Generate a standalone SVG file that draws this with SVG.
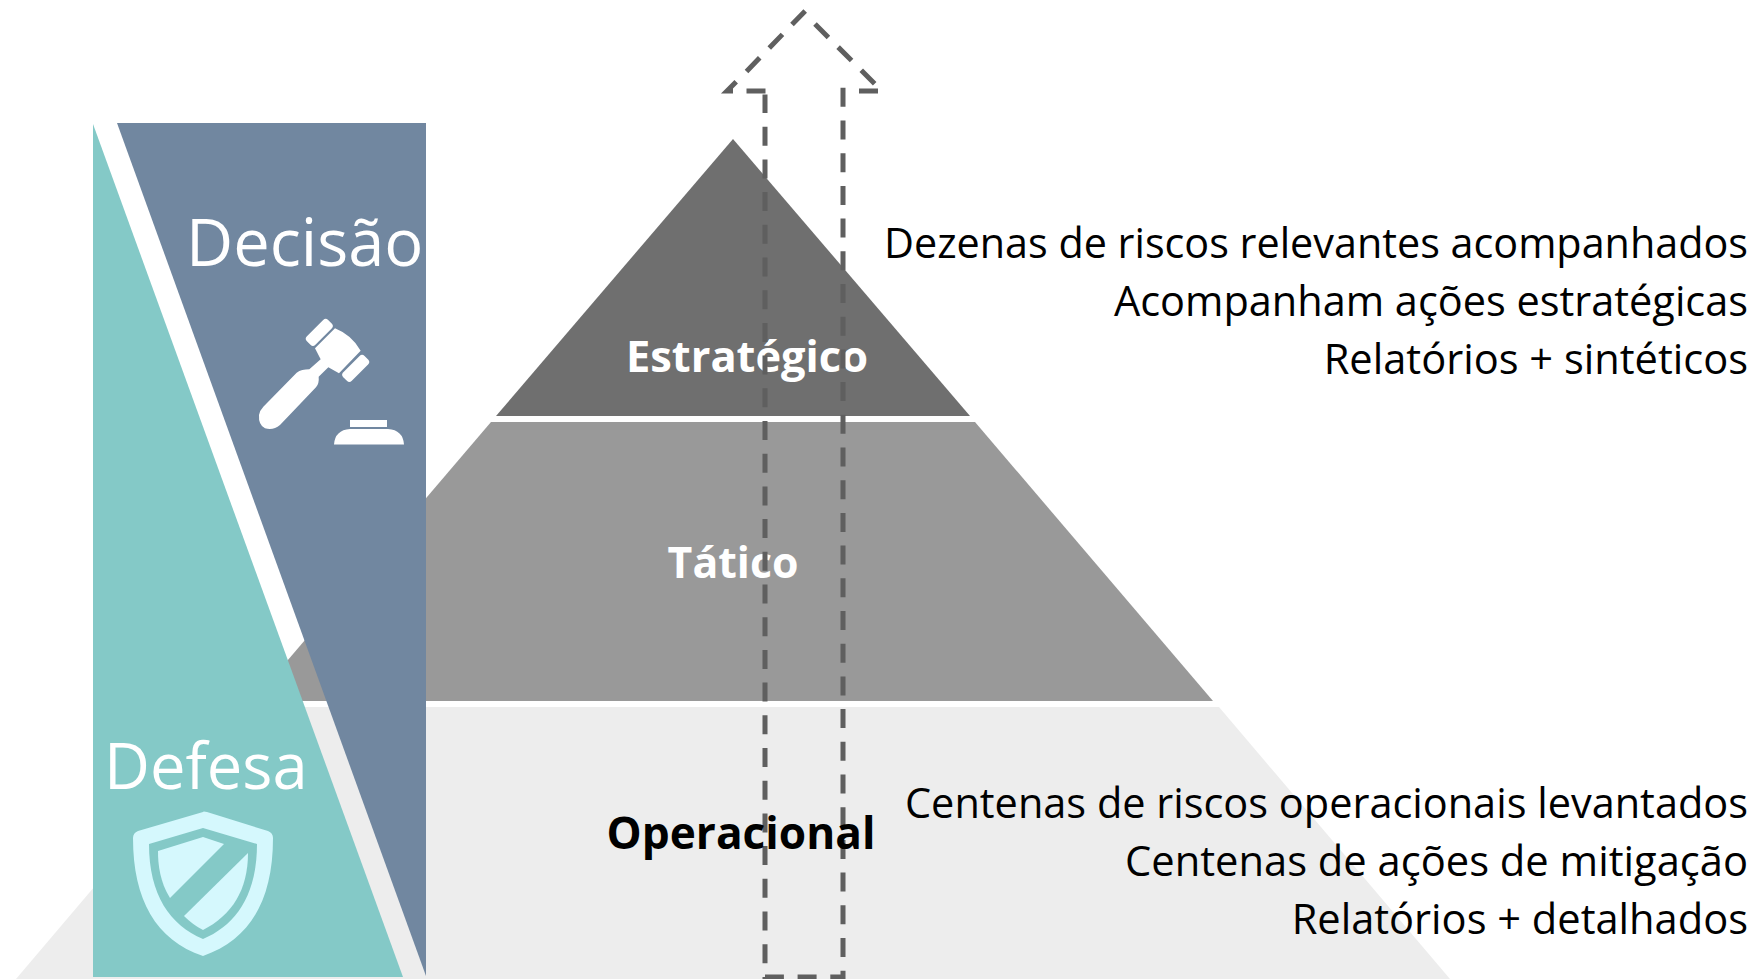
<svg xmlns="http://www.w3.org/2000/svg" width="1762" height="979" viewBox="0 0 1762 979">
<style>
text{font-family:"Open Sans","Noto Sans","Liberation Sans",sans-serif}
.r{font-size:41.6px;fill:#000;text-anchor:end}
.b{font-weight:700;text-anchor:middle}
.h{fill:#fff}
</style>
<rect width="1762" height="979" fill="#fff"/>
<g id="piramide-operacional"><polygon points="247,707 1219,707 1450,979 16,979" fill="#ededed"/></g>
<g id="piramide-tatico"><polygon points="491,422 975,422 1213,701 253,701" fill="#999"/></g>
<g id="piramide-estrategico"><polygon points="733,139 970,416 496,416" fill="#6f6f6f"/></g>
<g id="rotulo-estrategico"><text class="b" font-size="43.4" x="747" y="372" fill="#fff">Estratégico</text></g>
<g id="rotulo-tatico"><text class="b" font-size="42.8" x="733" y="578" fill="#fff">Tático</text></g>
<g id="conectores"><path d="M733,91 H727 L739,79 M746.5,71.5 L805.2,10.9 M815,24 L875,84 M878,91 H859 M843,87.8 V977 H765 V94.5 M765.5,91 H746.5" fill="none" stroke="#5f5f5f" stroke-width="5" stroke-dasharray="19 13.7"/></g>
<g id="rotulo-operacional"><text class="b" font-size="44.2" x="741" y="849" fill="#000">Operacional</text></g>
<g id="decisao">
<polygon points="117,123 426,123 426,976" fill="#7187a0"/>
<text class="h" font-size="65" x="186" y="266">Decisão</text>
<g fill="#fff">
<path transform="translate(80,100) scale(.33333)" d="M705,745 L765,685 Q815,705 842,752 L777,820 L745,802 L716,830 Q718,850 708,862 L600,975 Q580,992 555,985 Q535,975 537,945 Q540,930 550,920 L650,818 Q665,808 688,808 L722,778 Z"/>
<rect x="-15" y="-6" width="30" height="12" rx="3.5" transform="translate(319.3,332.3) rotate(-45)"/>
<rect x="-15" y="-6" width="30" height="12" rx="3.5" transform="translate(355.7,368.3) rotate(-45)"/>
<path d="M350,420 H387 V427 H350 Z M334,444.5 Q335,430 350,429 H388 Q403,430 404,444.5 Z"/>
</g>
</g>
<g id="defesa">
<polygon points="93,124 403,977 93,977" fill="#84c9c7"/>
<text class="h" font-size="63.3" x="104" y="789">Defesa</text>
<g fill="#d5f8fd">
<path fill-rule="evenodd" d="M203,812 Q203,811 207,812 L268,831 Q273,833 273,838 C273,900 250,940 203,956 C156,940 133,900 133,838 Q133,833 138,831 Z M203,828 L149,844 C149,895 170,925 203,939 C236,925 257,895 257,844 Z"/>
<path d="M203,837 L224,844 L170,898 C160,882 158,865 158,851 Z"/>
<path d="M248,853 C248,890 232,915 203,930 Q193,925 184,916 Z"/>
</g>
</g>
<g id="textos-estrategico">
<text class="r" x="1748" y="258" textLength="864" lengthAdjust="spacingAndGlyphs">Dezenas de riscos relevantes acompanhados</text>
<text class="r" x="1748" y="316" textLength="634" lengthAdjust="spacingAndGlyphs">Acompanham ações estratégicas</text>
<text class="r" x="1748" y="374">Relatórios + sintéticos</text>
</g>
<g id="textos-operacional">
<text class="r" x="1748" y="818" textLength="843" lengthAdjust="spacingAndGlyphs">Centenas de riscos operacionais levantados</text>
<text class="r" x="1748" y="876" textLength="623" lengthAdjust="spacingAndGlyphs">Centenas de ações de mitigação</text>
<text class="r" x="1748" y="934">Relatórios + detalhados</text>
</g>
</svg>
